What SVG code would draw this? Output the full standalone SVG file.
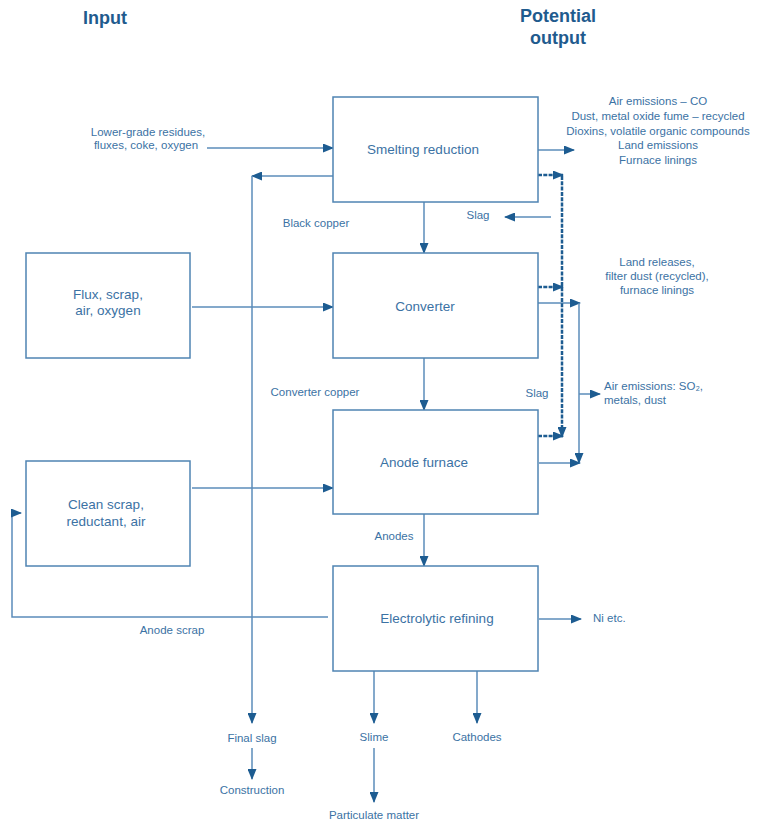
<svg xmlns="http://www.w3.org/2000/svg" width="757" height="824" viewBox="0 0 757 824">
<defs>
<marker id="ah" markerUnits="userSpaceOnUse" markerWidth="11" markerHeight="9" refX="10" refY="4.5" orient="auto">
<path d="M0,0 L11,4.5 L0,9 z" fill="#1d5c91"/>
</marker>
<style>
.box{fill:#fff;stroke:#4f84b3;stroke-width:1.5}
.t{font-family:"Liberation Sans",Arial,sans-serif;fill:#3b72a4;text-anchor:middle}
.bt{font-size:13.5px}
.lt{font-size:11.5px}
.s{text-anchor:start}
.title{font-family:"Liberation Sans",Arial,sans-serif;font-weight:bold;font-size:18px;fill:#1f5b8e;text-anchor:middle}
.ca{fill:none;stroke:#5b8cba;stroke-width:1.5;marker-end:url(#ah)}
.da{fill:none;stroke:#1d5c91;stroke-width:2.5;stroke-dasharray:4 1.3;marker-end:url(#ah)}
</style>
</defs>
<rect width="757" height="824" fill="#fff"/>
<g id="titles">
<text class="title" x="105" y="24">Input</text>
<text class="title" x="558" y="22">Potential</text>
<text class="title" x="558" y="44">output</text>
</g>
<g id="connectors">
<path class="ca" d="M207,148 H333"/>
<path class="ca" d="M192,307 H333"/>
<path class="ca" d="M192,488 H333"/>
<path class="ca" d="M333,176 H252"/>
<path class="ca" d="M252,176 V723"/>
<path class="ca" d="M252,748 V779"/>
<path class="ca" d="M424,202 V253"/>
<path class="ca" d="M424,358 V410"/>
<path class="ca" d="M424,514 V566"/>
<path class="ca" d="M374,671 V723"/>
<path class="ca" d="M477,671 V723"/>
<path class="ca" d="M374,748 V802"/>
<path class="ca" d="M538,150 H574"/>
<path class="ca" d="M551,217 H505"/>
<path class="ca" d="M538,303 H580"/>
<path class="ca" d="M579,303 V463"/>
<path class="ca" d="M539,463 H580"/>
<path class="ca" d="M579,394 H600"/>
<path class="ca" d="M539,619 H581"/>
<path class="ca" d="M328,617 H12 V513 H21"/>
<path class="da" d="M538,175 H563"/>
<path class="da" d="M538,287 H563"/>
<path class="da" d="M538,436 H563"/>
<path class="da" d="M562,176 V437"/>
</g>
<g id="smelting">
<rect class="box" x="333" y="97" width="205" height="105"/>
<text class="t bt" x="423" y="154">Smelting reduction</text>
</g>
<g id="converter">
<rect class="box" x="333" y="253" width="205" height="105"/>
<text class="t bt" x="425" y="311">Converter</text>
</g>
<g id="anode-furnace">
<rect class="box" x="333" y="410" width="205" height="104"/>
<text class="t bt" x="424" y="467">Anode furnace</text>
</g>
<g id="electrolytic">
<rect class="box" x="333" y="566" width="205" height="105"/>
<text class="t bt" x="437" y="623">Electrolytic refining</text>
</g>
<g id="flux">
<rect class="box" x="26" y="253" width="164" height="105"/>
<text class="t bt" x="108" y="299">Flux, scrap,</text>
<text class="t bt" x="108" y="315">air, oxygen</text>
</g>
<g id="clean-scrap">
<rect class="box" x="26" y="461" width="164" height="105"/>
<text class="t bt" x="106" y="509">Clean scrap,</text>
<text class="t bt" x="106" y="526">reductant, air</text>
</g>
<g id="labels">
<text class="t lt" x="148" y="136">Lower-grade residues,</text>
<text class="t lt" x="146" y="149">fluxes, coke, oxygen</text>
<text class="t lt" x="316" y="227">Black copper</text>
<text class="t lt" x="478" y="219">Slag</text>
<text class="t lt" x="315" y="396">Converter copper</text>
<text class="t lt" x="537" y="397">Slag</text>
<text class="t lt" x="394" y="540">Anodes</text>
<text class="t lt" x="172" y="634">Anode scrap</text>
<text class="t lt" x="252" y="742">Final slag</text>
<text class="t lt" x="252" y="794">Construction</text>
<text class="t lt" x="374" y="741">Slime</text>
<text class="t lt" x="477" y="741">Cathodes</text>
<text class="t lt" x="374" y="819">Particulate matter</text>
<text class="t lt" x="658" y="105">Air emissions – CO</text>
<text class="t lt" x="658" y="120">Dust, metal oxide fume – recycled</text>
<text class="t lt" x="658" y="135">Dioxins, volatile organic compounds</text>
<text class="t lt" x="658" y="149">Land emissions</text>
<text class="t lt" x="658" y="164">Furnace linings</text>
<text class="t lt" x="657" y="266">Land releases,</text>
<text class="t lt" x="657" y="280">filter dust (recycled),</text>
<text class="t lt" x="657" y="294">furnace linings</text>
<text class="t lt s" x="604" y="390">Air emissions: SO₂,</text>
<text class="t lt s" x="604" y="404">metals, dust</text>
<text class="t lt s" x="593" y="622">Ni etc.</text>
</g>
</svg>
